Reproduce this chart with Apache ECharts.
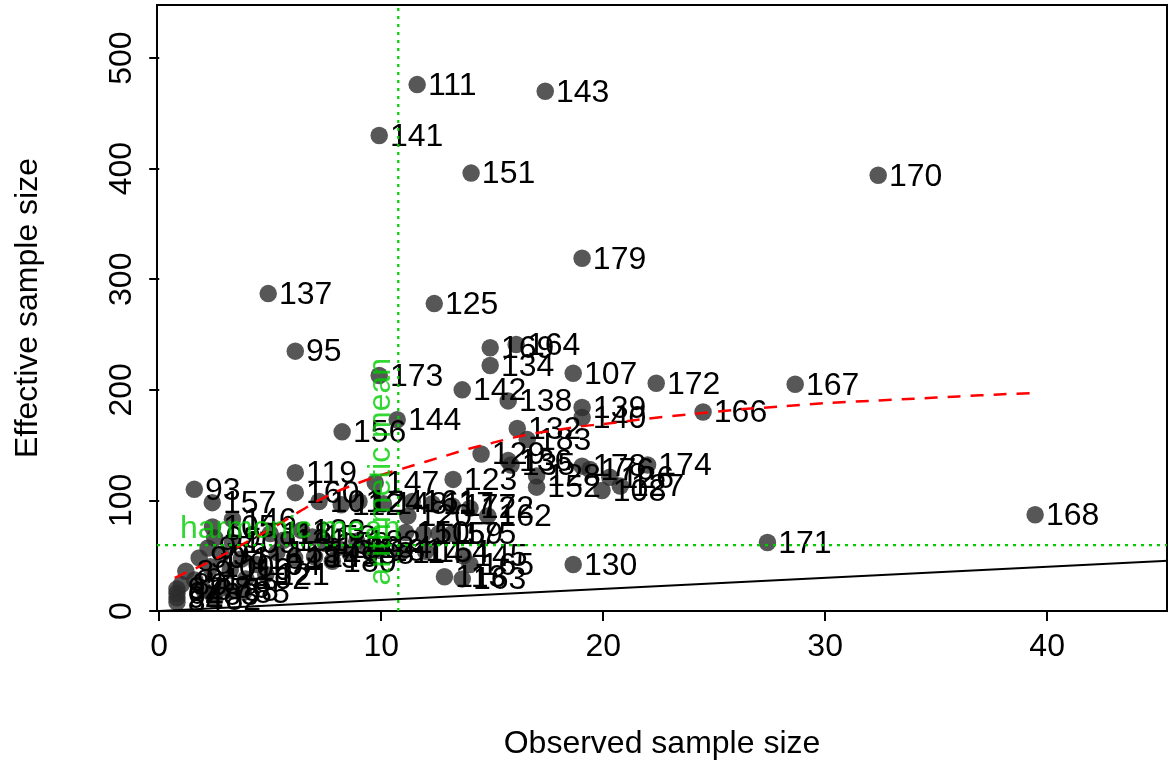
<!DOCTYPE html>
<html><head><meta charset="utf-8">
<script src="https://cdn.jsdelivr.net/npm/echarts@6/dist/echarts.min.js"></script>
<style>html,body{margin:0;padding:0;background:#fff}#c{width:1170px;height:765px}</style>
</head><body><div id="c"></div>
<script>
// ---- data ----
const pointIds = [
  '111','143','141','151','170','179','137','125','95','169','164','134','173','107','142','172','167',
  '138','139','140','166','144','156','132','183','129','136','135','123','128','152','178','176','126',
  '108','127','174','168','171','130',
  '119','160','147','93','157','101','112','124','148','161','117','177','122','162','120',
  '150','115','159','175','181','114','154','145','165','113','163',
  '146','105','99','109','97','98','116','90','100','110','104','102','121',
  '118','131','133','153','158','186','188','155','185','149','180','182','184',
  '84','94','64','92','80','89','91','87','83','86','88','85','82'
];
const observedSize = [
  11.62,17.39,9.91,14.05,32.39,19.05,4.91,12.39,6.13,14.91,16.08,14.91,9.91,18.65,13.65,22.39,28.65,
  15.72,19.05,19.05,24.5,10.72,8.24,16.13,16.58,14.5,15.72,15.85,13.24,17.0,17.0,19.05,19.4,20.3,
  19.95,20.77,22.0,39.46,27.4,18.65,
  6.13,6.13,9.73,1.58,2.39,7.2,8.2,9.0,10.1,11.4,12.3,13.2,14.0,14.8,11.2,
  11.1,11.9,12.6,13.2,9.9,10.9,12.0,13.7,14.0,12.85,13.65,
  3.3,2.4,2.5,3.3,2.2,2.8,3.7,1.8,2.3,3.2,4.4,3.9,4.8,
  5.0,5.6,6.4,6.9,7.5,8.0,8.6,5.3,6.1,7.0,7.8,8.9,9.4,
  0.8,0.8,0.8,0.8,1.0,1.2,1.6,2.0,2.4,2.9,3.3,3.8,2.5
];
const effectiveSize = [
  476,470,430,396,394,319,287,278,235,238,241,222,213,215,200,206,205,
  190,184,175,180,173,162,165,155,142,136,132,119,122,112,131,128,121,
  109,113,132,87,62,42,
  125,107,116,110,98,99,96,99,97,99,97,95,93,86,86,
  71,70,70,70,55,53,54,50,42,31,29,
  83,76,66,62,57,51,47,48,40,37,42,29,33,
  70,64,73,67,61,57,52,53,48,49,45,63,57,
  8,12,16,20,24,36,28,19,15,21,18,17,10
];
// red dashed trend curve
const curveX = [0.7,2,3,4,5,6,7,8,9,10,11,12,13,14,15,16,17,18,19,20,22,24,26,28,30,32,34,36,38,39.4];
const curveY = [30,42,52,63,74,86,98,108,116,123,129,135,141,147,152,157,161,164,167,169,174,178,182,185,188,190,192,194,196,197];
const arithmeticMean = 10.77;
const harmonicMean = 59.6;
const identityRange = [0, 46];
const xTicks = [0,10,20,30,40];
const yTicks = [0,100,200,300,400,500];

// ---- chart ----
const FONT = "'Liberation Sans', Arial, Helvetica, sans-serif";
const XMIN = -0.1, XMAX = 45.4, YMIN = 0, YMAX = 548;
const GREEN = '#00CD00';
const chart = echarts.init(document.getElementById('c'), null, {renderer: 'canvas'});
const pts = observedSize.map((x, i) => [x, effectiveSize[i], pointIds[i]]);

chart.setOption({
  animation: false,
  textStyle: {fontFamily: FONT},
  grid: {left: 157, right: 3, top: 5, bottom: 153, show: true, borderColor: '#000', borderWidth: 2, containLabel: false},
  xAxis: {
    type: 'value', min: XMIN, max: XMAX,
    name: 'Observed sample size', nameLocation: 'middle', nameGap: 117,
    nameTextStyle: {fontSize: 32, color: '#000', fontFamily: FONT},
    axisLine: {show: false}, splitLine: {show: false},
    axisTick: {show: true, length: 10, lineStyle: {color: '#000', width: 2}, customValues: xTicks},
    axisLabel: {customValues: xTicks, fontSize: 32, color: '#000', margin: 20, fontFamily: FONT}
  },
  yAxis: {
    type: 'value', min: YMIN, max: YMAX,
    name: 'Effective sample size', nameLocation: 'middle', nameGap: 113,
    nameTextStyle: {fontSize: 32, color: '#000', fontFamily: FONT},
    axisLine: {show: false}, splitLine: {show: false},
    axisTick: {show: true, length: 10, lineStyle: {color: '#000', width: 2}, customValues: yTicks},
    axisLabel: {customValues: yTicks, fontSize: 32, color: '#000', margin: 19, rotate: 90, fontFamily: FONT}
  },
  series: [
    {
      type: 'scatter', z: 2, symbol: 'circle', symbolSize: 17.5,
      itemStyle: {color: 'rgba(45,45,45,0.8)', opacity: 1},
      data: pts,
      label: {show: true, position: 'right', distance: 2, offset: [0, 1.5], formatter: p => p.value[2],
              fontSize: 32, color: '#000', opacity: 1, fontFamily: FONT}
    },
    {
      type: 'line', z: 3, showSymbol: false, silent: true,
      data: identityRange.map(v => [v, v]),
      lineStyle: {color: '#000', width: 2}
    },
    {
      type: 'line', z: 3, showSymbol: false, silent: true, smooth: 0.3,
      data: curveX.map((x, i) => [x, curveY[i]]),
      lineStyle: {color: '#FF0000', width: 2.5, type: [13, 10]}
    },
    {
      type: 'line', z: 3, showSymbol: false, silent: true,
      data: [[arithmeticMean, YMIN], [arithmeticMean, YMAX]],
      lineStyle: {color: GREEN, width: 2.2, type: [3, 5]}
    },
    {
      type: 'line', z: 3, showSymbol: false, silent: true,
      data: [[XMIN, harmonicMean], [XMAX, harmonicMean]],
      lineStyle: {color: GREEN, width: 2.2, type: [3, 5]}
    },
    {
      type: 'scatter', z: 4, symbolSize: 0, silent: true,
      data: [[5.9, 74]],
      label: {show: true, position: 'inside', formatter: 'harmonic mean', fontSize: 32, color: GREEN, fontFamily: FONT}
    },
    {
      type: 'scatter', z: 4, symbolSize: 0, silent: true,
      data: [[10.0, 126]],
      label: {show: true, position: 'inside', rotate: 90, formatter: 'arithmetic mean', fontSize: 32, color: GREEN, fontFamily: FONT}
    }
  ]
});
</script>
</body></html>
